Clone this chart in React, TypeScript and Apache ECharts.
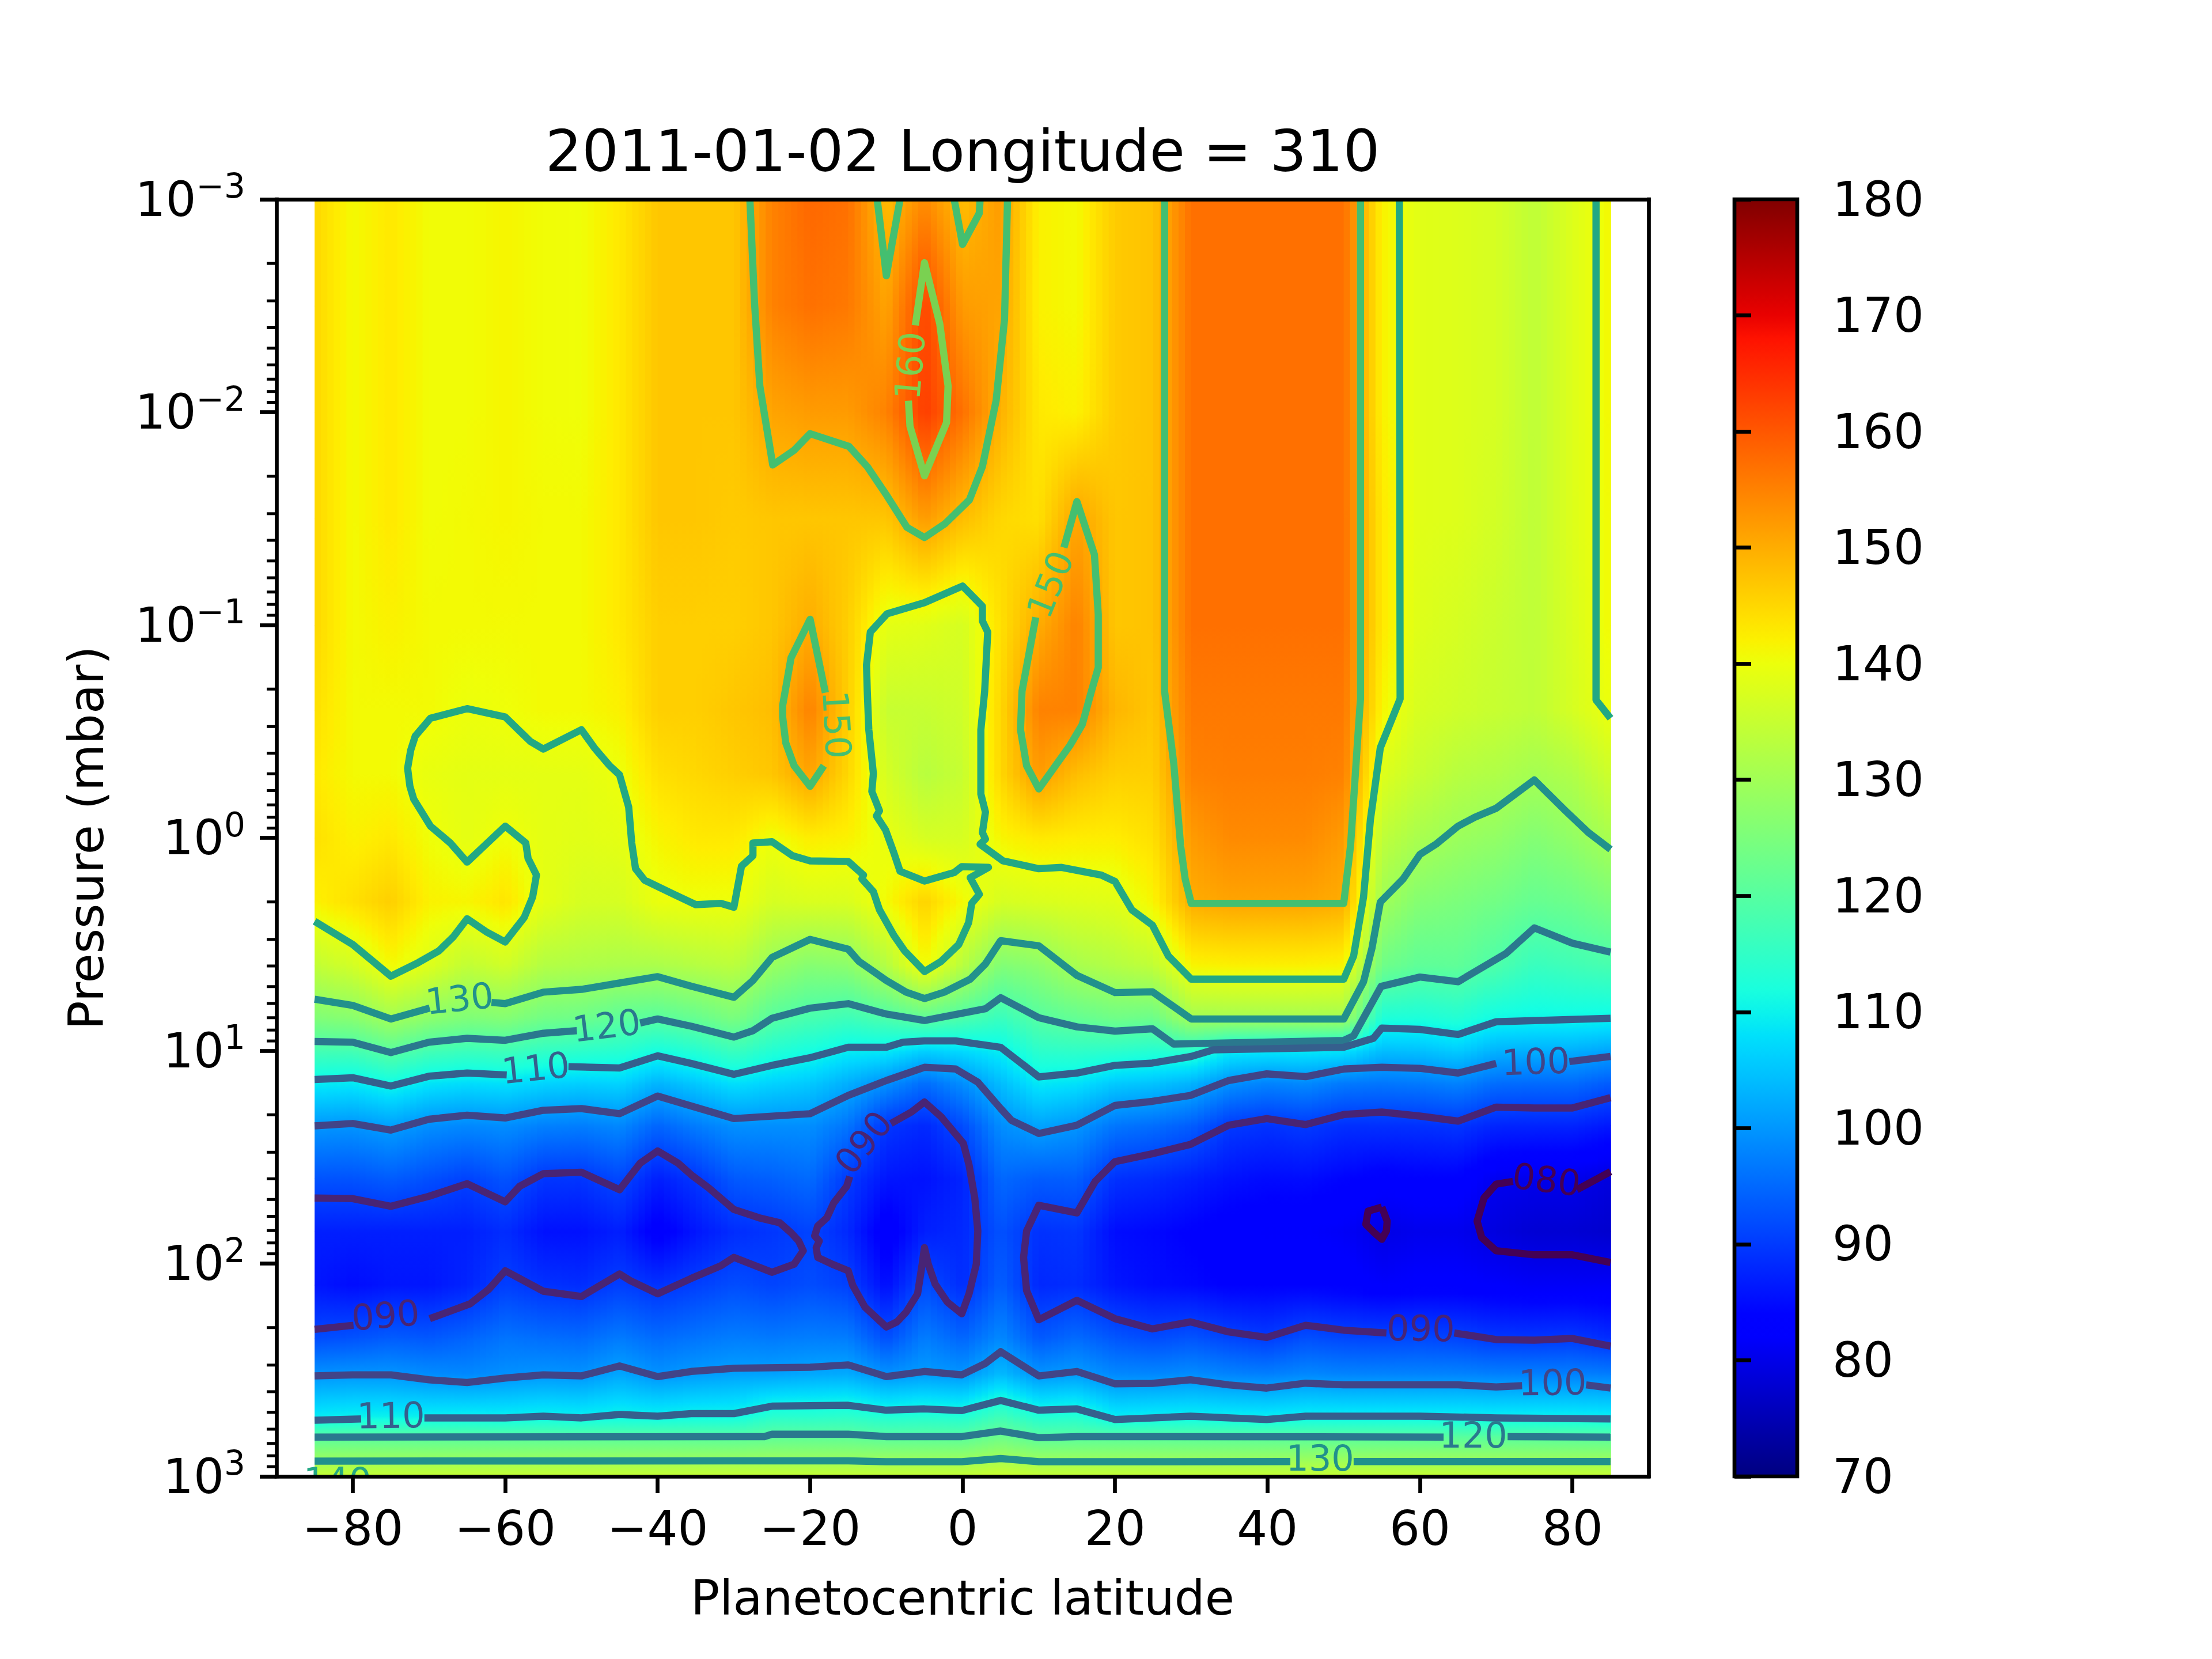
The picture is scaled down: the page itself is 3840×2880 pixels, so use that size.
import { useEffect, useRef } from "react";
import * as echarts from "echarts";

const FONT = "DejaVu Sans";

// axis scales
const latitudes = [
  -85, -80, -75, -70, -65, -60, -55, -50, -45, -40, -35, -30, -25, -20, -15, -10, -5, 0,
  5, 10, 15, 20, 25, 30, 35, 40, 45, 50, 55, 60, 65, 70, 75, 80, 85,
];
// log10(mbar) of each row of temperatures
const pressureExponents = [
  -3, -2.5, -2, -1.5, -1, -0.6, -0.3, 0, 0.3, 0.6, 0.85, 1, 1.15, 1.35, 1.6, 1.85, 2.1, 2.35, 2.52, 2.72, 2.81, 2.93, 3,
];
const xRange = [-90, 90];
const xTickValues = [-80, -60, -40, -20, 0, 20, 40, 60, 80];
const minorMantissas = [2, 3, 4, 5, 6, 7, 8, 9];
const decades = [-3, -2, -1, 0, 1, 2];
const colorbarRange = [70, 180];

// temperature rows (K), one per pressure level, one value per latitude
const temperatures = [
  [145,141,143,140.7,140.7,141.5,140.7, 140.5,143,147,147,147,155,158, 157,148,154,148,152,142,141, 146.5,147.5,157,157,157,157,157, 142,138.5,138,137,134,138,141.2],
  [145,141,143,140.7,140.7,141.5,140.7, 140.5,143,147,147,147,155,157, 156,151,162,152,151,142,141, 146.5,147.5,157,157,157,157,157, 142,138.5,138,137,134,138,141.2],
  [145,141,143,140.7,140.7,141.5,140.7, 140.5,143,147,147,147,151,152, 152,155,163,157,149.5,143,142, 146.5,147.5,157,157,157,157,157, 142,138.5,138,137,134,138,141.2],
  [145,141,143,140.7,141,141.5,141, 141,143,147,147,146.5,147,147, 147,147,152,148,145,144,151, 147,147.5,157,157,157,157,157, 143,138.5,138,136.5,134,138,141],
  [145,141,142,141,141,141,141, 141,143,146,146,146,147,150, 146,139,138.5,137,144,150,155, 147,147.5,157,157,157,157,157, 143,138,137,135.5,134,137.5,141],
  [144,141,141,141,140,140.4,141, 141,142,146,146,147,148,155, 146,135,135,136,145,155,155, 149,147,156,156,156,156,156, 141.5,137,136,135,134,137,140],
  [143,141,141,139.5,139,139,139, 139,140,144,145,146,147,151, 145,137,133,135,145,152,148, 146,146,155,155.5,155.5,155.5,155, 138,135,133,132,130.5,132,136],
  [144,142,143,140.5,139,140.5,139, 138.5,139,141.5,143,143,140.3,142.5, 142,139.5,137,137,141.5,143,142.5, 142.5,144,152,154,154,154,152, 134,131,129.2,128,126,128,131],
  [142,144,146,142,141.5,143.5,139, 137,137,139.8,140.2,140.2,137,137.5, 137.5,141,145.5,141,137,137.5,138, 138.5,141.5,150,151,151,151,150, 130,126,125,123.7,122,123,125],
  [134.3,136.5,141,138,134.2,136.2,132.4, 131.8,131.3,131.3,132.6,133.5,128.7,126.2, 127,132.5,141,133,125.6,127.2,130.9, 132.4,134.1,141.5,142,142,142,141.5, 123.3,121,121.2,118.7,115.9,117,118],
  [125.4,126.4,130,126.9,125.2,125.9,123.5, 122.9,120.6,120,121.9,124.6,119.9,117.9, 116.5,118.5,120.8,118.4,115.8,119.8,121.6, 123.2,122.6,130,130,130,130,130, 112.2,112,113,110.5,110.2,110.2,109.9],
  [117.6,117.6,120.5,117.5,116.4,117,115.2, 114.4,113.7,111.4,113.4,116.3,113.1,111.4, 109.3,109,106.3,107.4,109.4,114.4,114.8, 114.3,113.4,114,109.3,108.8,108.9,108.4, 104.2,104.5,105.8,103,102.6,102.6,101.5],
  [109.3,108.9,111,108.5,107.7,108.2,106.8, 106.2,106.8,103.3,105.5,108.1,106.6,105.6, 102.7,99.5,95.6,99.2,104.2,109,108.2, 105.7,105,103.3,99.5,98,98.8,97, 96.6,97,98,95.6,95.4,95.4,93.7],
  [100.1,99.8,101.1,99.2,98.5,99.1,97.7, 97.4,98.5,94.7,97.2,99.3,99.2,99.2, 96.4,89.5,88,91.9,99,101.5,100, 96.5,95.6,93.9,90,89.2,90,88.8, 88.9,89,89.5,87.7,87.6,87.6,86.3],
  [92.7,92.7,93.7,92.3,90.8,92.8,89.5, 89.4,91.5,87,89.5,93.4,94.1,95.3, 90,86,85.5,87.5,95,93.7,93.9, 89,88.3,87,85.5,84.8,85,84, 83,83.5,83.5,80.7,80.3,80.3,79],
  [87,87,87,87,87,88.5,85.5, 85.5,87,82.5,86,88.5,89.5,91, 88,82,87,88,92.5,89,89.5, 85,84.5,83.5,82.5,82,82,81.5, 79.7,80.5,80.5,79,78,78,77.5],
  [86,85,86,86,87.5,90.5,89, 88.5,90.5,89,90.5,92,91,92, 90.7,85,92,88.5,94,88,88.5, 86,85,84.5,83.5,83.5,83.5,83, 82,82.5,82.5,82,81.5,81.5,81.5],
  [91.9,92.6,93.7,93.2,94.5,96.3,95.6, 95.2,97,95.3,96.4,97.3,96.9,97.4, 97.2,92.2,97.3,94.6,98.5,93.3,95.3, 93,91.8,92.8,91.2,90.1,92.2,91.4, 91.2,91.5,91,89.7,89.6,89.9,88.5],
  [99.6,99.9,99.9,99,98.5,99.3,99.9, 99.6,101.7,99.5,100.6,101.3,101.3,101.9, 102.2,99.5,100.7,99.9,104,99.7,100.7, 98.5,98.4,99,98,97.5,98.5,98, 98,98,98,97.6,97.6,97.6,97.3],
  [109.2,110,110,109.8,110,109.8,110.2, 109.8,110.5,110.2,110.8,110.8,114,114, 114.5,113,113.5,113,117,113,113.5, 109.3,109.8,110,109.8,109.5,110,110, 110,110,110,109.8,109.8,109.8,109.6],
  [120,120,120,120,120,120,120, 120,120,120,120,120,120.8,120.8, 120.8,120,120,120,122.8,120,120, 120,120,120,120,120,120,120, 120,120,120,120,120,120,120],
  [130,130,130,130,130,130,130, 130,130,130,130,130,130,130, 130,130,130,130,131.3,130,130, 130,130,130,130,130,130,130, 130,130,130,130,130,130,130],
  [135,135,135,135,135,135,135, 135,135,135,135,135,135,135, 135,135,135,135,136,135,135, 135,135,135,135,135,135,135, 135,135,135,135,135,135,135],
];

// contour lines, [latitude, log10(mbar)]
const c160 = [[-6.2,-2.408],[-5,-2.702],[-3,-2.417],[-1.9,-2.123],[-2.1,-1.951],[-5,-1.701],[-6.9,-1.934],[-7.1,-2.054]];
const c150Top = [[-27.9,-3],[-27.3,-2.52],[-26.6,-2.124],[-24.9,-1.752],[-22.1,-1.821],[-20,-1.899],[-14.9,-1.839],[-12.5,-1.744],[-9.9,-1.606],[-7.3,-1.459],[-5,-1.411],[-2.3,-1.476],[0.9,-1.588],[2.6,-1.744],[4.4,-2.054],[5.5,-2.434],[5.9,-3]];
const c150Notch1 = [[-11.2,-3],[-10,-2.641],[-8.2,-3]];
const c150Notch2 = [[-1.1,-3],[0,-2.788],[2.2,-2.935],[2.3,-3]];
const c150Left = [[-18,-0.682],[-20,-1.027],[-22.5,-0.846],[-23.6,-0.622],[-23.6,-0.568],[-23.2,-0.447],[-22.1,-0.339],[-20,-0.242],[-18.2,-0.339]];
const c150Right = [[13.3,-1.364],[15,-1.58],[17.3,-1.33],[17.8,-1.05],[17.8,-0.8],[16.9,-0.689],[15.7,-0.532],[14.1,-0.435],[10,-0.23],[8.4,-0.339],[7.6,-0.508],[7.8,-0.689],[9.6,-1.036]];
const c150Box = [[26.5,-3],[26.5,-0.689],[27.7,-0.351],[28.6,0.036],[29.2,0.193],[30,0.308],[50,0.308],[50.9,0.036],[51.8,-0.447],[52.2,-0.653],[52.2,-3]];
const c140Main = [
  [-85,0.392],[-80,0.501],[-75,0.65],[-71.4,0.586],[-68.7,0.531],[-66.8,0.465],[-65,0.38],[-62.5,0.441],[-60,0.489],[-57.5,0.374],[-56.4,0.278],[-55.9,0.175],[-57,0.096],[-57.3,0.024],[-60,-0.055],[-65,0.114],[-67.2,0.024],[-69.8,-0.055],[-72,-0.182],[-72.5,-0.242],[-72.8,-0.327],[-72.4,-0.411],[-71.8,-0.478],[-69.8,-0.562],[-65,-0.607],[-60,-0.568],[-56.7,-0.453],[-55,-0.417],[-50,-0.508],[-48.3,-0.423],[-46.3,-0.339],[-45,-0.296],[-43.8,-0.145],[-43.4,0.024],[-42.9,0.145],[-41.7,0.199],[-37.9,0.265],
  [-35,0.314],[-31.7,0.308],[-30,0.326],[-29,0.133],[-27.5,0.084],[-27.5,0.024],[-25,0.018],[-22.3,0.084],[-20,0.108],[-15,0.111],[-13,0.175],[-13.2,0.193],[-11.7,0.253],[-10.9,0.338],[-9,0.459],[-7.6,0.531],[-5,0.628],[-2.8,0.58],[-0.5,0.501],[0.8,0.398],[1.2,0.308],[2.2,0.265],[1,0.187],[3.4,0.139],[-0.1,0.135],[-1.1,0.163],[-5,0.203],[-8.2,0.157],[-9,0.072],[-10.1,-0.037],[-11.3,-0.103],[-10.9,-0.127],[-11.9,-0.218],[-11.7,-0.302],[-12.3,-0.508],[-12.5,-0.689],
  [-12.6,-0.812],[-12.1,-0.967],[-9.9,-1.053],[-5,-1.105],[0,-1.183],[2.6,-1.088],[2.6,-1.019],[3.3,-0.967],[2.9,-0.689],[2.4,-0.508],[2.4,-0.206],[3,-0.121],[2.6,-0.025],[3,0.006],[2.3,0.03],[5.3,0.108],[10,0.145],[13,0.139],[18.2,0.175],[20,0.205],[22.2,0.338],[24.9,0.41],
  [27,0.555],[30,0.664],[50,0.664],[51.3,0.555],[52.6,0.278],[53.5,-0.085],[54.8,-0.423],[57.4,-0.653],[57.3,-3],
];
const c140Edge = [[83.1,-3],[83.1,-0.648],[85,-0.562]];
const c130UpperA = [[-85,0.758],[-80,0.787],[-75,0.851],[-69.9,0.8]];
const c130UpperB = [[-61.8,0.773],[-60,0.779],[-55,0.725],[-50,0.712],[-45,0.682],[-40,0.652],[-35.6,0.697],[-30,0.749],[-27.5,0.67],[-25,0.562],[-20,0.477],[-15,0.523],[-13.6,0.58],[-10,0.67],[-7.4,0.725],[-5,0.755],[-2.4,0.725],[1,0.664],[3,0.592],[5,0.483],[10,0.507],[15,0.646],[20,0.727],[24.9,0.723],[30,0.851],[50,0.851],[52.6,0.676],[53.7,0.519],[54.8,0.302],[57.8,0.193],[60,0.078],[62.1,0.03],[65,-0.055],[67.2,-0.097],[70,-0.139],[75,-0.272],[79.1,-0.127],[82.1,-0.025],[85,0.054]];
const c120UpperA = [[-85,0.957],[-80,0.96],[-75,1.009],[-70,0.96],[-65,0.942],[-60,0.951],[-55,0.918],[-50.6,0.906]];
const c120UpperB = [[-42.3,0.87],[-40,0.851],[-35.6,0.885],[-30,0.936],[-27.5,0.906],[-25,0.848],[-20,0.8],[-15,0.779],[-10.1,0.827],[-5,0.858],[3,0.803],[5,0.751],[10,0.845],[15,0.888],[20,0.908],[24.9,0.897],[27.7,0.969],[50,0.952],[51.3,0.93],[54.9,0.698],[60,0.654],[65,0.676],[71.3,0.543],[75,0.423],[80,0.495],[85,0.537]];
const c110UpperA = [[-85,1.135],[-80,1.127],[-75,1.166],[-70,1.12],[-65,1.105],[-59.8,1.114]];
const c110UpperB = [[-51.7,1.075],[-45,1.081],[-40,1.024],[-35.6,1.06],[-30,1.111],[-25,1.069],[-20,1.033],[-15,0.984],[-10,0.984],[-7.8,0.96],[-5,0.954],[-0.9,0.954],[5,0.984],[10,1.123],[15,1.105],[20,1.069],[24.9,1.058],[30,1.027],[32.9,0.996],[50,0.984],[53.9,0.942],[55,0.894],[60,0.9],[65,0.924],[70,0.864],[85,0.848]];
const c100UpperA = [[-85,1.353],[-80,1.342],[-75,1.373],[-70,1.322],[-65,1.303],[-60,1.316],[-55,1.28],[-50,1.272],[-45,1.296],[-40,1.213],[-35.6,1.26],[-30,1.319],[-20,1.296],[-15,1.21],[-10,1.14],[-5,1.078],[-0.9,1.086],[2,1.148],[5,1.272],[6.4,1.327],[10,1.389],[15,1.35],[20,1.257],[24.9,1.238],[29.9,1.21],[34.9,1.14],[39.9,1.109],[45,1.122],[50,1.086],[55,1.078],[60,1.083],[65,1.105],[70,1.06]];
const c100UpperB = [[79.6,1.051],[85,1.027]];
const c090WestA = [[-69.9,2.259],[-64.6,2.189],[-62.1,2.119],[-60,2.034],[-55,2.13],[-50,2.155],[-45,2.049],[-43.6,2.08],[-40,2.142],[-35.6,2.07],[-31.7,2.01],[-30,1.971],[-25,2.041],[-22.1,2.003],[-20.9,1.94],[-21.5,1.894],[-22.5,1.855],[-24,1.808],[-26.7,1.785],[-30,1.746],[-33.3,1.645],[-35.6,1.583],[-37.3,1.529],[-40,1.471],[-42.3,1.529],[-45,1.653],[-50,1.571],[-55,1.578],[-58.1,1.637],[-60,1.71],[-65,1.625],[-70,1.684],[-75,1.731],[-80,1.695],[-85,1.692]];
const c090WestB = [[-85,2.309],[-79.9,2.29]];
const c090Mid = [[-9.4,1.342],[-6.7,1.288],[-5,1.241],[-2.8,1.311],[0.1,1.435],[0.85,1.537],[1.6,1.692],[2,1.847],[1.8,2.003],[0.85,2.142],[-0.1,2.236],[-2,2.181],[-3.6,2.096],[-4.5,2.003],[-5,1.925],[-5.3,2.003],[-5.9,2.142],[-7.4,2.228],[-8.6,2.274],[-10,2.298],[-12.8,2.205],[-14.4,2.103],[-15,2.034],[-17.1,2.003],[-19,1.971],[-19.2,1.925],[-18.8,1.894],[-19.4,1.87],[-19,1.824],[-17.8,1.785],[-16.9,1.715],[-15.2,1.637],[-14.8,1.591]];
const c090EastA = [[85,1.221],[80,1.269],[75,1.269],[70,1.265],[65,1.331],[60,1.307],[55,1.288],[50,1.3],[45,1.347],[39.9,1.319],[34.9,1.35],[29.9,1.44],[24.9,1.484],[20,1.521],[17.4,1.614],[15,1.762],[10,1.726],[8.4,1.847],[8,1.971],[8.4,2.127],[10,2.264],[15,2.173],[20,2.259],[24.9,2.307],[29.9,2.274],[34.9,2.321],[39.9,2.347],[45,2.29],[50,2.313],[55.6,2.326]];
const c090EastB = [[64.5,2.326],[70,2.357],[75,2.36],[80,2.352],[85,2.388]];
const c100LowerA = [[-85,2.528],[-80,2.523],[-75,2.523],[-70,2.546],[-65,2.559],[-60,2.538],[-55,2.523],[-50,2.528],[-45,2.481],[-40,2.531],[-35.6,2.507],[-30,2.492],[-20,2.487],[-15,2.476],[-10,2.531],[-5,2.507],[-0.1,2.523],[3,2.469],[5,2.414],[10,2.528],[15,2.507],[20,2.565],[24.9,2.563],[29.9,2.546],[34.9,2.57],[39.9,2.585],[45,2.562],[50,2.57],[65,2.57],[70,2.58],[73.4,2.574]];
const c100LowerB = [[81.8,2.57],[85,2.585]];
const c110LowerA = [[-85,2.736],[-78.9,2.73]];
const c110LowerB = [[-70.6,2.725],[-60,2.725],[-55,2.717],[-50,2.725],[-45,2.709],[-40,2.717],[-35.6,2.705],[-30,2.705],[-25,2.67],[-15,2.666],[-10,2.689],[-5,2.683],[-0.1,2.691],[5,2.643],[10,2.689],[15,2.683],[20,2.733],[24.9,2.725],[29.9,2.717],[39.9,2.733],[45,2.717],[60,2.717],[70,2.725],[85,2.73]];
const c120LowerA = [[-85,2.815],[-26,2.813],[-25,2.802],[-15,2.802],[-10,2.813],[-0.1,2.813],[5,2.787],[10,2.818],[15,2.813],[24.9,2.813],[63.1,2.815]];
const c120LowerB = [[71.5,2.813],[85,2.815]];
const c130LowerA = [[-85,2.928],[-15,2.927],[-10,2.931],[-0.1,2.931],[5,2.916],[10,2.931],[24.9,2.931],[43,2.93]];
const c130LowerB = [[51.3,2.93],[85,2.93]];
const c080Small = [[55,1.735],[55.7,1.801],[55.6,1.847],[55,1.886],[54,1.855],[52.9,1.816],[53.2,1.754],[55,1.735]];
const c080East = [[72.2,1.614],[70,1.627],[68.4,1.692],[67.5,1.801],[68.1,1.878],[70,1.94],[75,1.959],[80,1.959],[85,1.995]];
const c080EastTop = [[85,1.568],[80.6,1.653]];

const contourLines = [
  { level: 160, points: c160 },
  { level: 150, points: c150Top },
  { level: 150, points: c150Notch1 },
  { level: 150, points: c150Notch2 },
  { level: 150, points: c150Left },
  { level: 150, points: c150Right },
  { level: 150, points: c150Box },
  { level: 140, points: c140Main },
  { level: 140, points: c140Edge },
  { level: 130, points: c130UpperA },
  { level: 130, points: c130UpperB },
  { level: 130, points: c130LowerA },
  { level: 130, points: c130LowerB },
  { level: 120, points: c120UpperA },
  { level: 120, points: c120UpperB },
  { level: 120, points: c120LowerA },
  { level: 120, points: c120LowerB },
  { level: 110, points: c110UpperA },
  { level: 110, points: c110UpperB },
  { level: 110, points: c110LowerA },
  { level: 110, points: c110LowerB },
  { level: 100, points: c100UpperA },
  { level: 100, points: c100UpperB },
  { level: 100, points: c100LowerA },
  { level: 100, points: c100LowerB },
  { level: 90, points: c090WestA },
  { level: 90, points: c090WestB },
  { level: 90, points: c090Mid },
  { level: 90, points: c090EastA },
  { level: 90, points: c090EastB },
  { level: 80, points: c080Small },
  { level: 80, points: c080East },
  { level: 80, points: c080EastTop },
];

// text, level, latitude, log10(mbar), rotation in degrees
const contourLabels: [string, number, number, number, number][] = [
  ["160", 160, -6.9, -2.218, 85],
  ["150", 150, 11.5, -1.191, 68],
  ["150", 150, -16.5, -0.532, -87],
  ["140", 140, -82, 3.02, 0],
  ["130", 130, -66, 0.755, 6],
  ["120", 120, -46.7, 0.882, 7],
  ["110", 110, -56, 1.081, 6],
  ["100", 100, 75.2, 1.051, 2],
  ["090", 90, -75.7, 2.243, 5],
  ["090", 90, -13, 1.431, 52],
  ["090", 90, 60.1, 2.305, -1],
  ["080", 80, 76.6, 1.606, -7],
  ["100", 100, 77.4, 2.559, 1],
  ["110", 110, -75, 2.714, 1],
  ["120", 120, 67, 2.807, 0],
  ["130", 130, 46.9, 2.916, 0],
];

const levelColors: Record<number, string> = {
  80: "#440154",
  90: "#482475",
  100: "#414487",
  110: "#355f8d",
  120: "#2a788e",
  130: "#21918c",
  140: "#22a884",
  150: "#44bf70",
  160: "#7ad151",
};

const jetR = [[0, 0], [0.35, 0], [0.66, 1], [0.89, 1], [1, 0.5]];
const jetG = [[0, 0], [0.125, 0], [0.375, 1], [0.64, 1], [0.91, 0], [1, 0]];
const jetB = [[0, 0.5], [0.11, 1], [0.34, 1], [0.65, 0], [1, 0]];

const channel = (anchors: number[][], t: number) => {
  for (let i = 1; i < anchors.length; i++) {
    if (t <= anchors[i][0]) {
      const [t0, v0] = anchors[i - 1];
      const [t1, v1] = anchors[i];
      return v0 + ((v1 - v0) * (t - t0)) / (t1 - t0);
    }
  }
  return anchors[anchors.length - 1][1];
};

const jetColor = (temp: number) => {
  const t = Math.min(1, Math.max(0, (temp - colorbarRange[0]) / (colorbarRange[1] - colorbarRange[0])));
  const c = (a: number[][]) => Math.round(channel(a, t) * 255);
  return `rgb(${c(jetR)},${c(jetG)},${c(jetB)})`;
};

const toPressure = (exp: number) => Math.pow(10, exp);

const App = () => {
  const chartRef = useRef<HTMLDivElement>(null);

  useEffect(() => {
    const chart = echarts.init(chartRef.current, null, { renderer: "svg" });

    // one cell per pair of neighbouring grid points
    const heatCells: number[][] = [];
    for (let j = 0; j < pressureExponents.length - 1; j++) {
      for (let i = 0; i < latitudes.length - 1; i++) {
        heatCells.push([
          latitudes[i], toPressure(pressureExponents[j]),
          latitudes[i + 1], toPressure(pressureExponents[j + 1]),
          temperatures[j][i], temperatures[j][i + 1],
          temperatures[j + 1][i], temperatures[j + 1][i + 1],
        ]);
      }
    }

    const minorTicks: number[][] = [];
    decades.forEach((d) => minorMantissas.forEach((m) => minorTicks.push([xRange[0], m * toPressure(d)])));

    const renderHeatCell = (_params: any, api: any) => {
      const a = api.coord([api.value(0), api.value(1)]);
      const b = api.coord([api.value(2), api.value(3)]);
      const strips = 6;
      const segments = 6;
      const children: any[] = [];
      for (let k = 0; k < strips; k++) {
        const u = (k + 0.5) / strips;
        const top = api.value(4) + (api.value(5) - api.value(4)) * u;
        const bottom = api.value(6) + (api.value(7) - api.value(6)) * u;
        const stops = [];
        for (let s = 0; s <= segments; s++) {
          stops.push({ offset: s / segments, color: jetColor(top + ((bottom - top) * s) / segments) });
        }
        children.push({
          type: "rect",
          shape: {
            x: a[0] + ((b[0] - a[0]) * k) / strips,
            y: a[1],
            width: (b[0] - a[0]) / strips + 1,
            height: b[1] - a[1] + 1,
          },
          style: { fill: new echarts.graphic.LinearGradient(0, 0, 0, 1, stops) },
        });
      }
      return { type: "group", children };
    };

    const renderMinorTick = (_params: any, api: any) => {
      const p = api.coord([api.value(0), api.value(1)]);
      return {
        type: "line",
        shape: { x1: p[0] - 17, y1: p[1], x2: p[0], y2: p[1] },
        style: { stroke: "#000", lineWidth: 5 },
      };
    };

    const renderContourLabel = (params: any, api: any) => {
      const item = contourLabels[params.dataIndex];
      const p = api.coord([item[2], toPressure(item[3])]);
      return {
        type: "text",
        x: p[0],
        y: p[1],
        rotation: (item[4] * Math.PI) / 180,
        style: {
          text: item[0],
          x: 0,
          y: 0,
          fill: levelColors[item[1]],
          fontSize: 62,
          fontFamily: FONT,
          align: "center",
          verticalAlign: "middle",
        },
      };
    };

    const renderColorbar = (_params: any, api: any) => {
      const top = api.coord([0, colorbarRange[1]]);
      const bottom = api.coord([1, colorbarRange[0]]);
      const stops = [];
      for (let v = colorbarRange[1]; v >= colorbarRange[0]; v -= 2) {
        stops.push({ offset: (colorbarRange[1] - v) / (colorbarRange[1] - colorbarRange[0]), color: jetColor(v) });
      }
      return {
        type: "rect",
        shape: { x: top[0], y: top[1], width: bottom[0] - top[0], height: bottom[1] - top[1] },
        style: {
          fill: new echarts.graphic.LinearGradient(0, 0, 0, 1, stops),
          stroke: "#000",
          lineWidth: 6.67,
        },
      };
    };

    const axisLine = { show: true, onZero: false, lineStyle: { color: "#000", width: 6.67, cap: "square" } };
    const axisTick = { show: true, length: 29, lineStyle: { color: "#000", width: 6.67 } };
    const labelStyle = { color: "#000", fontSize: 83.3, fontFamily: FONT };

    chart.setOption({
      animation: false,
      backgroundColor: "#fff",
      title: {
        text: "2011-01-02 Longitude = 310",
        left: 1666,
        top: 207,
        textAlign: "center",
        textStyle: { color: "#000", fontSize: 100, fontWeight: "normal", fontFamily: FONT },
      },
      grid: [
        { left: 480, top: 346, width: 2382, height: 2217, containLabel: false },
        { left: 3011, top: 346, width: 109, height: 2217, containLabel: false },
      ],
      xAxis: [
        {
          type: "value",
          gridIndex: 0,
          min: xRange[0],
          max: xRange[1],
          z: 10,
          axisLine,
          axisTick: { ...axisTick, customValues: xTickValues },
          splitLine: { show: false },
          axisLabel: {
            ...labelStyle,
            margin: 49,
            customValues: xTickValues,
            formatter: (v: number) => String(v).replace("-", "\u2212"),
          },
          name: "Planetocentric latitude",
          nameLocation: "middle",
          nameGap: 170,
          nameTextStyle: labelStyle,
        },
        {
          type: "value",
          gridIndex: 0,
          position: "top",
          min: xRange[0],
          max: xRange[1],
          z: 10,
          axisLine,
          axisTick: { show: false },
          axisLabel: { show: false },
          splitLine: { show: false },
        },
        {
          type: "value",
          gridIndex: 1,
          min: 0,
          max: 1,
          show: false,
        },
      ],
      yAxis: [
        {
          type: "log",
          logBase: 10,
          gridIndex: 0,
          inverse: true,
          min: toPressure(-3),
          max: toPressure(3),
          splitNumber: 6,
          z: 10,
          axisLine,
          axisTick,
          splitLine: { show: false },
          minorTick: { show: false },
          axisLabel: {
            margin: 54,
            formatter: (v: number) => {
              const exp = Math.round(Math.log10(v));
              return `{base|10}{sup|${String(exp).replace("-", "\u2212")}}`;
            },
            rich: {
              base: { ...labelStyle },
              sup: { ...labelStyle, fontSize: 58, padding: [0, 0, 46, 0] },
            },
          },
          name: "Pressure (mbar)",
          nameLocation: "middle",
          nameGap: 288,
          nameTextStyle: labelStyle,
        },
        {
          type: "log",
          logBase: 10,
          gridIndex: 0,
          inverse: true,
          position: "right",
          min: toPressure(-3),
          max: toPressure(3),
          z: 10,
          axisLine,
          axisTick: { show: false },
          axisLabel: { show: false },
          splitLine: { show: false },
        },
        {
          type: "value",
          gridIndex: 1,
          position: "right",
          min: colorbarRange[0],
          max: colorbarRange[1],
          interval: 10,
          z: 10,
          axisLine: { show: false },
          axisTick,
          splitLine: { show: false },
          axisLabel: { ...labelStyle, margin: 61 },
        },
      ],
      series: [
        {
          type: "custom",
          name: "temperature",
          xAxisIndex: 0,
          yAxisIndex: 0,
          z: 1,
          silent: true,
          progressive: 0,
          encode: { x: [0, 2], y: [1, 3] },
          data: heatCells,
          renderItem: renderHeatCell,
        },
        ...contourLines.map((c) => ({
          type: "line",
          xAxisIndex: 0,
          yAxisIndex: 0,
          z: 3,
          silent: true,
          symbol: "none",
          showSymbol: false,
          lineStyle: { color: levelColors[c.level], width: 12.5, cap: "butt", join: "round" },
          data: c.points.map((p) => [p[0], toPressure(p[1])]),
        })),
        {
          type: "custom",
          name: "labels",
          xAxisIndex: 0,
          yAxisIndex: 0,
          z: 4,
          silent: true,
          clip: true,
          encode: { x: 0, y: 1 },
          data: contourLabels.map((l) => [l[2], toPressure(l[3])]),
          renderItem: renderContourLabel,
        },
        {
          type: "custom",
          name: "minor ticks",
          xAxisIndex: 0,
          yAxisIndex: 0,
          z: 5,
          silent: true,
          encode: { x: 0, y: 1 },
          data: minorTicks,
          renderItem: renderMinorTick,
        },
        {
          type: "custom",
          name: "colorbar",
          xAxisIndex: 2,
          yAxisIndex: 2,
          z: 2,
          silent: true,
          encode: { x: 0, y: 1 },
          data: [[0, colorbarRange[0]]],
          renderItem: renderColorbar,
        },
      ],
    });

    return () => {
      chart.dispose();
    };
  }, []);

  return (
    <div
      ref={chartRef}
      style={{ position: "absolute", left: 0, top: 0, width: 3840, height: 2880, background: "#fff" }}
    />
  );
};

export default App;
